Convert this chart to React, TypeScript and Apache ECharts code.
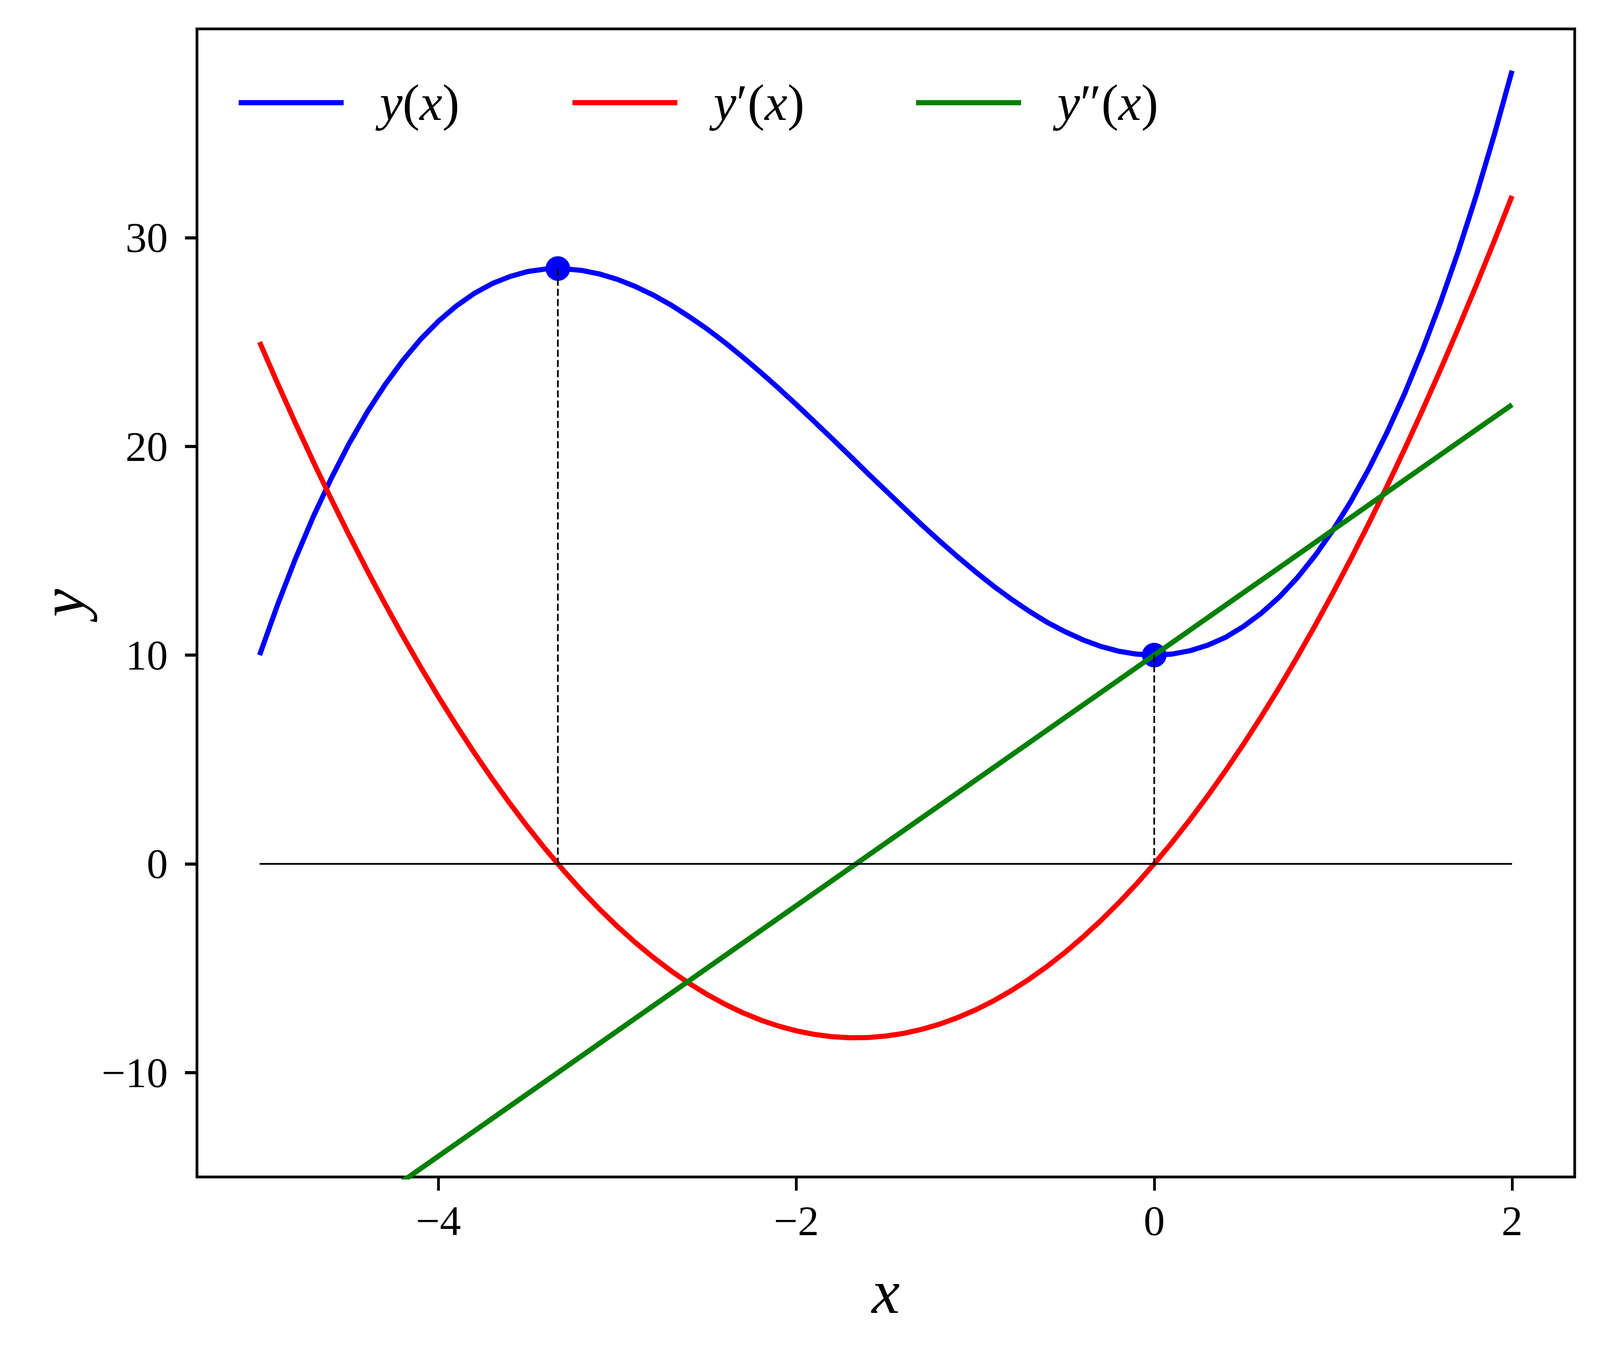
import { useEffect, useRef } from 'react';
import * as echarts from 'echarts';

// points, x from -5 to 2 in steps of 0.1
const xs = [
  -5, -4.9, -4.8, -4.7, -4.6, -4.5, -4.4, -4.3, -4.2, -4.1,
  -4, -3.9, -3.8, -3.7, -3.6, -3.5, -3.4, -3.3, -3.2, -3.1,
  -3, -2.9, -2.8, -2.7, -2.6, -2.5, -2.4, -2.3, -2.2, -2.1,
  -2, -1.9, -1.8, -1.7, -1.6, -1.5, -1.4, -1.3, -1.2, -1.1,
  -1, -0.9, -0.8, -0.7, -0.6, -0.5, -0.4, -0.3, -0.2, -0.1,
  0, 0.1, 0.2, 0.3, 0.4, 0.5, 0.6, 0.7, 0.8, 0.9,
  1, 1.1, 1.2, 1.3, 1.4, 1.5, 1.6, 1.7, 1.8, 1.9, 2,
];
const yValues = [
  10, 12.4, 14.61, 16.63, 18.46, 20.13, 21.62, 22.94, 24.11, 25.13,
  26, 26.73, 27.33, 27.8, 28.14, 28.38, 28.5, 28.51, 28.43, 28.26,
  28, 27.66, 27.25, 26.77, 26.22, 25.63, 24.98, 24.28, 23.55, 22.79,
  22, 21.19, 20.37, 19.54, 18.7, 17.88, 17.06, 16.25, 15.47, 14.72,
  14, 13.32, 12.69, 12.11, 11.58, 11.13, 10.74, 10.42, 10.19, 10.05,
  10, 10.05, 10.21, 10.48, 10.86, 11.38, 12.02, 12.79, 13.71, 14.78,
  16, 17.38, 18.93, 20.65, 22.54, 24.63, 26.9, 29.36, 32.03, 34.91, 38,
];
const dyValues = [
  25, 23.03, 21.12, 19.27, 17.48, 15.75, 14.08, 12.47, 10.92, 9.43,
  8, 6.63, 5.32, 4.07, 2.88, 1.75, 0.68, -0.33, -1.28, -2.17,
  -3, -3.77, -4.48, -5.13, -5.72, -6.25, -6.72, -7.13, -7.48, -7.77,
  -8, -8.17, -8.28, -8.33, -8.32, -8.25, -8.12, -7.93, -7.68, -7.37,
  -7, -6.57, -6.08, -5.53, -4.92, -4.25, -3.52, -2.73, -1.88, -0.97,
  0, 1.03, 2.12, 3.27, 4.48, 5.75, 7.08, 8.47, 9.92, 11.43,
  13, 14.63, 16.32, 18.07, 19.88, 21.75, 23.68, 25.67, 27.72, 29.83, 32,
];
const ddyLine = [
  [-5, -20],
  [2, 22],
];
const zeroLine = [
  [-5, 0],
  [2, 0],
];
const extrema = [
  [-3.333, 28.52],
  [0, 10],
];
const xTicks = [-4, -2, 0, 2];
const yTicks = [-10, 0, 10, 20, 30];
const seriesNames = ['y(x)', 'y′(x)', 'y″(x)'];
const seriesColors = ['#0000ff', '#ff0000', '#008000'];
const legendLefts = [698, 1674, 2679];

const FONT = '"Liberation Serif", "DejaVu Serif", serif';
const REF_W = 4679;
const REF_H = 3479;

const legendLabels: Record<string, string> = {
  'y(x)': '{i|y}{n|(}{i|x}{n|)}',
  'y′(x)': '{i|y}{n|′(}{i|x}{n|)}',
  'y″(x)': '{i|y}{n|″(}{i|x}{n|)}',
};

const fmt = (v: number) => (v < 0 ? '−' + Math.abs(v) : String(v));

const App = () => {
  const chartRef = useRef<HTMLDivElement>(null);

  useEffect(() => {
    const el = chartRef.current;
    if (!el) return;
    const chart = echarts.init(el, undefined, { renderer: 'svg' });

    // layout is measured on the 4679 x 3479 reference and scaled to the page
    const kx = (el.clientWidth || REF_W) / REF_W;
    const ky = (el.clientHeight || REF_H) / REF_H;
    const sx = (v: number) => v * kx;
    const sy = (v: number) => v * ky;

    const curves = [yValues, dyValues].map((vals) => xs.map((x, i) => [x, vals[i]]));

    const tickFont = { fontFamily: FONT, fontSize: sx(124), color: '#000' };
    const nameFont = { fontFamily: FONT, fontSize: sx(185), fontStyle: 'italic', color: '#000' };
    const legendSize = sx(150);

    chart.setOption({
      animation: false,
      backgroundColor: '#ffffff',
      grid: {
        left: sx(576),
        top: sy(74),
        width: sx(4605 - 576),
        height: sy(3013 - 74),
        show: true,
        borderColor: '#000',
        borderWidth: sx(8),
        backgroundColor: 'transparent',
      },
      legend: seriesNames.map((name, i) => ({
        data: [name],
        left: sx(legendLefts[i]),
        top: sy(263) - legendSize / 2,
        padding: 0,
        icon: 'rect',
        itemWidth: sx(307),
        itemHeight: sx(15),
        selectedMode: false,
        formatter: (n: string) => legendLabels[n] ?? n,
        textStyle: {
          fontFamily: FONT,
          fontSize: legendSize,
          color: '#000',
          padding: [0, 0, 0, sx(100)],
          rich: {
            i: { fontFamily: FONT, fontSize: legendSize, fontStyle: 'italic', color: '#000' },
            n: { fontFamily: FONT, fontSize: legendSize, color: '#000' },
          },
        },
      })),
      xAxis: {
        type: 'value',
        min: -5.35,
        max: 2.35,
        name: 'x',
        nameLocation: 'middle',
        nameGap: sy(313) - sx(115),
        nameTextStyle: nameFont,
        axisLine: { show: false, onZero: false },
        axisTick: {
          show: true,
          inside: false,
          length: sy(35),
          lineStyle: { color: '#000', width: sx(8) },
          customValues: xTicks,
        },
        axisLabel: { ...tickFont, margin: sy(75) - sx(20), customValues: xTicks, formatter: fmt },
        splitLine: { show: false },
      },
      yAxis: {
        type: 'value',
        min: -15,
        max: 40,
        name: 'y',
        nameLocation: 'middle',
        nameGap: sx(300),
        nameRotate: 90,
        nameTextStyle: nameFont,
        axisLine: { show: false, onZero: false },
        axisTick: {
          show: true,
          inside: false,
          length: sx(35),
          lineStyle: { color: '#000', width: sy(8) },
          customValues: yTicks,
        },
        axisLabel: { ...tickFont, margin: sx(85), customValues: yTicks, formatter: fmt },
        splitLine: { show: false },
      },
      series: [
        {
          name: seriesNames[0],
          type: 'line',
          data: curves[0],
          symbol: 'none',
          color: seriesColors[0],
          lineStyle: { color: seriesColors[0], width: sx(15) },
        },
        {
          name: seriesNames[1],
          type: 'line',
          data: curves[1],
          symbol: 'none',
          color: seriesColors[1],
          lineStyle: { color: seriesColors[1], width: sx(15) },
        },
        {
          name: seriesNames[2],
          type: 'line',
          data: ddyLine,
          symbol: 'none',
          clip: true,
          color: seriesColors[2],
          lineStyle: { color: seriesColors[2], width: sx(15) },
        },
        {
          type: 'line',
          data: zeroLine,
          symbol: 'none',
          lineStyle: { color: '#000', width: sx(5) },
        },
        ...extrema.map((p) => ({
          type: 'line',
          data: [p, [p[0], 0]],
          symbol: 'none',
          lineStyle: { color: '#000', width: sx(5), type: [sy(18), sy(8)] },
        })),
        {
          type: 'scatter',
          data: extrema,
          symbol: 'circle',
          symbolSize: sx(72),
          itemStyle: { color: '#0000ff', opacity: 1 },
        },
      ],
    });

    return () => {
      chart.dispose();
    };
  }, []);

  return (
    <div
      ref={chartRef}
      style={{ position: 'absolute', left: 0, top: 0, width: '100vw', height: '100vh', background: '#ffffff' }}
    />
  );
};

export default App;
